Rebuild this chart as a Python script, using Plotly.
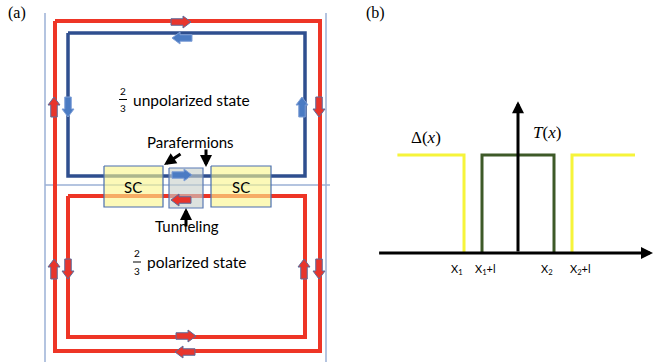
import plotly.graph_objects as go

# ---------------- Panel (a) schematic data (pixel frame) ----------------
guide_v_x = [45, 326]
guide_v_y = [13, 362]
guide_h_x = [45, 330]
guide_h_y = [185, 185]

outer_red_x = [55, 320, 320, 55, 55]
outer_red_y = [21, 21, 351, 351, 21]
blue_loop_x = [68, 305, 305, 68, 68]
blue_loop_y = [33, 33, 176, 176, 33]
inner_red_x = [68, 305, 305, 68, 68]
inner_red_y = [196, 196, 337, 337, 196]

sc_boxes = [(104, 163, 166, 207), (211, 271, 166, 207)]
tunnel_box = (169, 203, 168, 208)

# block arrows: (cx, cy, direction, colour)
block_arrows = [
    (181, 22, "r", "red"), (182, 38, "l", "blue"),
    (54, 107, "u", "red"), (68, 107, "d", "blue"),
    (302, 107, "u", "blue"), (319, 107, "d", "red"),
    (54, 269, "u", "red"), (68, 269, "d", "red"),
    (304, 269, "u", "red"), (319, 269, "d", "red"),
    (186, 336, "r", "red"), (185, 352, "l", "red"),
    (182, 175, "r", "blue"), (181, 200, "l", "red"),
]

# ---------------- Panel (b) data ----------------
x1 = -3.0
l = 1.0
x2 = 2.0
delta_level = 1.0
t_level = 1.0
delta_start = -6.7
delta_end = 6.5
tick_positions = [x1, x1 + l, x2, x2 + l]
tick_labels = ["X<sub>1</sub>", "X<sub>1</sub>+l", "X<sub>2</sub>", "X<sub>2</sub>+l"]
tick_shift = [-7, 3, -7, 8]

RED = "#ee3526"
BLUE = "#2f4f8f"
GUIDE = "#9bb0d6"
YEL = "#f6f43a"
GREEN = "#3e5a28"
SANS = "Lato, 'Open Sans', sans-serif"
SERIF = "'Liberation Serif', 'DejaVu Serif', serif"

fig = go.Figure()


def line(xs, ys, color, width, xa="x", ya="y"):
    fig.add_trace(go.Scatter(x=xs, y=ys, mode="lines", xaxis=xa, yaxis=ya,
                             line=dict(color=color, width=width),
                             hoverinfo="skip", showlegend=False))


# guides
for gx in guide_v_x:
    line([gx, gx], guide_v_y, GUIDE, 1.5)
line(guide_h_x, guide_h_y, GUIDE, 1.5)

# loops
line(outer_red_x, outer_red_y, RED, 4)
line(blue_loop_x, blue_loop_y, BLUE, 3.5)
line(inner_red_x, inner_red_y, RED, 4)


def box(x0, x1_, y0, y1, fill, border):
    fig.add_trace(go.Scatter(x=[x0, x1_, x1_, x0, x0], y=[y0, y0, y1, y1, y0],
                             mode="lines", fill="toself", fillcolor=fill,
                             line=dict(color=border, width=1.2),
                             hoverinfo="skip", showlegend=False))


for b in sc_boxes:
    box(*b, "rgba(250,246,140,0.62)", "#4a6fb0")
box(*tunnel_box, "rgba(200,208,204,0.62)", "#5a7ab5")


def block_arrow(cx, cy, d, L=20, s=6.5, H=12, h=8):
    pts = [(-L / 2, -s / 2), (L / 2 - h, -s / 2), (L / 2 - h, -H / 2), (L / 2, 0),
           (L / 2 - h, H / 2), (L / 2 - h, s / 2), (-L / 2, s / 2), (-L / 2, -s / 2)]
    xs, ys = [], []
    for u, v in pts:
        if d == "r":
            xs.append(cx + u); ys.append(cy + v)
        elif d == "l":
            xs.append(cx - u); ys.append(cy + v)
        elif d == "d":
            xs.append(cx + v); ys.append(cy + u)
        else:
            xs.append(cx + v); ys.append(cy - u)
    return xs, ys


for cx, cy, d, c in block_arrows:
    xs, ys = block_arrow(cx, cy, d)
    fill = "#e8352c" if c == "red" else "#4b7bc3"
    edge = "#5b6c9c" if c == "red" else "#7f9fd6"
    fig.add_trace(go.Scatter(x=xs, y=ys, mode="lines", fill="toself", fillcolor=fill,
                             line=dict(color=edge, width=1), hoverinfo="skip",
                             showlegend=False))

anns = []


def txt(x, y, t, size, fam=SANS, xa="x", ya="y", **kw):
    d = dict(x=x, y=y, xref=xa, yref=ya, text=t, showarrow=False,
             font=dict(family=fam, size=size, color="black"))
    d.update(kw)
    anns.append(d)


def arr(x, y, ax, ay, xa="x", ya="y", width=3, head=2, size=1.0):
    anns.append(dict(x=x, y=y, ax=ax, ay=ay, xref=xa, yref=ya, axref=xa, ayref=ya,
                     text="", showarrow=True, arrowhead=head, arrowwidth=width,
                     arrowsize=size, arrowcolor="black"))


txt(17, 13, "(a)", 16, SERIF)
txt(375, 13, "(b)", 16, SERIF)
txt(133, 187, "SC", 15)
txt(241, 187, "SC", 15)
txt(190, 142, "Parafermions", 15)
txt(187, 226, "Tunneling", 15)
# fractions
txt(123, 91, "2", 10)
txt(123, 108, "3", 10)
txt(137, 253, "2", 10)
txt(137, 271, "3", 10)
txt(131, 100, "unpolarized state", 15.5, xanchor="left")
txt(145, 262, "polarized state", 15.5, xanchor="left")

shapes = [
    dict(type="line", xref="x", yref="y", x0=119, x1=127, y0=99.5, y1=99.5,
         line=dict(color="black", width=1)),
    dict(type="line", xref="x", yref="y", x0=133, x1=141, y0=262, y1=262,
         line=dict(color="black", width=1)),
]

arr(164, 165, 182, 153, width=3, head=2, size=0.8)
arr(206, 167, 206, 148, width=3, head=2, size=0.8)
arr(186, 208, 186, 228, width=3, head=2, size=0.8)

# ---------------- Panel (b) ----------------
line([delta_start, x1, x1], [delta_level, delta_level, 0], YEL, 3, "x2", "y2")
line([x2 + l, x2 + l, delta_end], [0, delta_level, delta_level], YEL, 3, "x2", "y2")
line([x1 + l, x1 + l, x2, x2], [0, t_level, t_level, 0], GREEN, 3, "x2", "y2")

arr(7.5, 0, -7.8, 0, "x2", "y2", width=3, head=2, size=0.8)
arr(0, 1.55, 0, 0, "x2", "y2", width=3, head=2, size=0.8)

txt(-5.1, 1.18, "Δ(<i>x</i>)", 17, SERIF, "x2", "y2")
txt(1.6, 1.23, "<i>T</i>(<i>x</i>)", 17, SERIF, "x2", "y2")
for p, lab, sh in zip(tick_positions, tick_labels, tick_shift):
    txt(p, -0.17, lab, 11, SANS, "x2", "y2", xshift=sh)

fig.update_layout(
    width=654, height=362, margin=dict(l=0, r=0, t=0, b=0),
    paper_bgcolor="white", plot_bgcolor="white", showlegend=False,
    xaxis=dict(range=[0, 654], visible=False, domain=[0, 1]),
    yaxis=dict(range=[362, 0], visible=False, domain=[0, 1]),
    xaxis2=dict(range=[-28.78, 7.556], visible=False, overlaying="x", anchor="y2"),
    yaxis2=dict(range=[-1.112, 2.582], visible=False, overlaying="y", anchor="x2"),
    annotations=anns, shapes=shapes,
)

fig.write_html("out.html")
